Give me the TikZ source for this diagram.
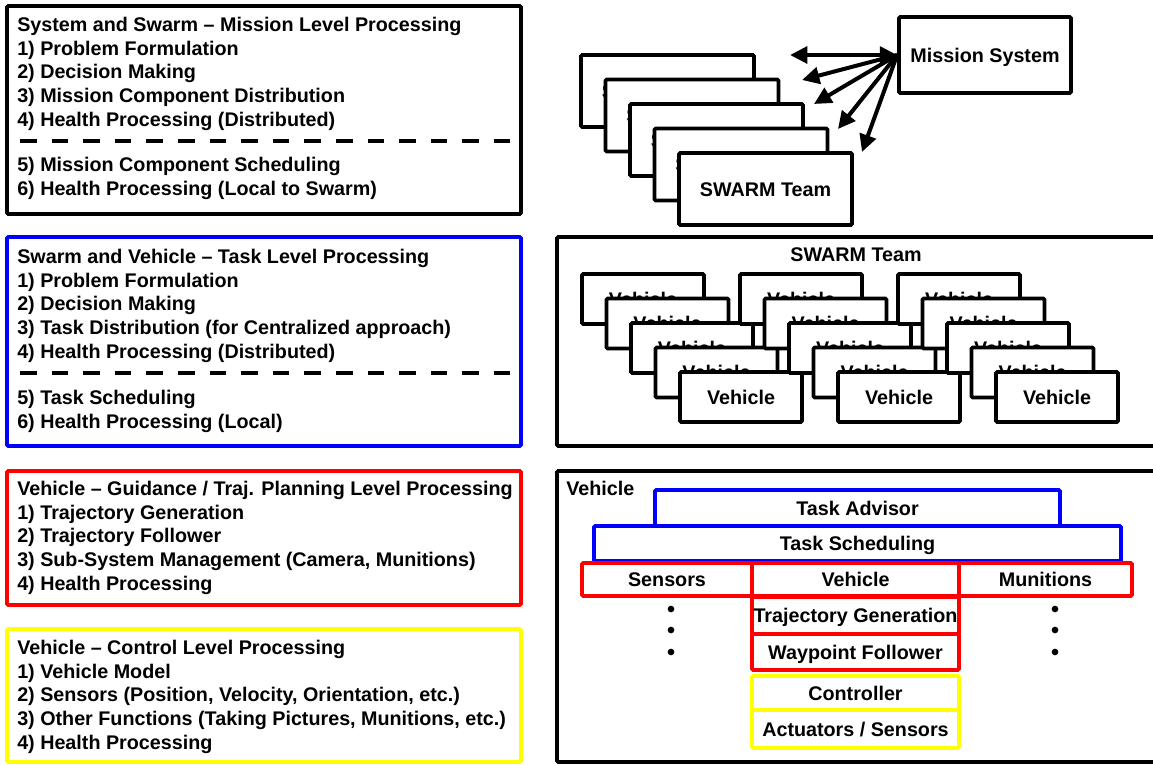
\documentclass[tikz,border=0pt]{standalone}
\usepackage{fontspec}
\setmainfont{Liberation Sans}
\usetikzlibrary{arrows.meta,fit}
\definecolor{pblue}{RGB}{0,0,255}
\definecolor{pred}{RGB}{255,0,0}
\definecolor{pyellow}{RGB}{255,255,0}
% box from pixel corners (x1,y1)-(x2,y2): [options]{name}{x1}{y1}{x2}{y2}{text}
\newcommand\mkbox[7][]{%
  \pgfmathsetmacro\bxw{((#5)-(#3))*0.75}%
  \pgfmathsetmacro\bxh{((#6)-(#4))*0.75}%
  \pgfmathsetmacro\bxx{((#3)+(#5))/2}%
  \pgfmathsetmacro\bxy{((#4)+(#6))/2}%
  \node[bx,#1,minimum width=\bxw pt,minimum height=\bxh pt] (#2) at (\bxx,\bxy) {#7};%
}
\begin{document}
\begin{tikzpicture}[x=0.75pt,y=-0.75pt,
  lbl/.style={font=\bfseries\fontsize{14.8}{17}\selectfont, inner sep=0pt},
  ln/.style={lbl, anchor=base west},
  frame/.style={draw, line width=2.8pt, rounded corners=1pt},
  bx/.style={draw, line width=2.8pt, fill=white, inner sep=0pt, rounded corners=1pt, lbl, text height=10.6pt, text depth=0pt},
  sep/.style={line width=3pt, dash pattern=on 12.4pt off 11.3pt},
  tip/.tip={Triangle[length=13pt,width=12.5pt]},
  arr/.style={line width=3pt, -tip},
  arrb/.style={line width=3pt, tip-tip},
  dot/.style={circle, fill, inner sep=0pt, minimum size=5pt}
]
\fill[white] (0,0) rectangle (1153,764);
\useasboundingbox (0,0) rectangle (1153,764);

% ---------- left panels ----------
\node[frame, inner sep=0pt, fit={(7,6) (521,214)}] (p1) {};
\node[ln] (p1t) at (17,31.5) {System and Swarm – Mission Level Processing};
\node[ln] (p1a) at (17,55.5) {1) Problem Formulation};
\node[ln] (p1b) at (17,78.5) {2) Decision Making};
\node[ln] (p1c) at (17,102.5) {3) Mission Component Distribution};
\node[ln] (p1d) at (17,126.5) {4) Health Processing (Distributed)};
\draw[sep] (20,141) -- (510,141);
\node[ln] (p1e) at (17,171.5) {5) Mission Component Scheduling};
\node[ln] (p1f) at (17,195.5) {6) Health Processing (Local to Swarm)};

\node[frame, draw=pblue, inner sep=0pt, fit={(7,237) (521,446)}] (p2) {};
\node[ln] (p2t) at (17,263.5) {Swarm and Vehicle – Task Level Processing};
\node[ln] (p2a) at (17,287.5) {1) Problem Formulation};
\node[ln] (p2b) at (17,310.5) {2) Decision Making};
\node[ln] (p2c) at (17,334.5) {3) Task Distribution (for Centralized approach)};
\node[ln] (p2d) at (17,358.5) {4) Health Processing (Distributed)};
\draw[sep] (20,373) -- (510,373);
\node[ln] (p2e) at (17,404.5) {5) Task Scheduling};
\node[ln] (p2f) at (17,428) {6) Health Processing (Local)};

\node[frame, draw=pred, inner sep=0pt, fit={(7,471) (521,605)}] (p3) {};
\node[ln] (p3t) at (17,495.5) {Vehicle – Guidance / Traj. Planning Level Processing};
\node[ln] (p3a) at (17,519.5) {1) Trajectory Generation};
\node[ln] (p3b) at (17,542.5) {2) Trajectory Follower};
\node[ln] (p3c) at (17,566.5) {3) Sub-System Management (Camera, Munitions)};
\node[ln] (p3d) at (17,590) {4) Health Processing};

\node[frame, draw=pyellow, inner sep=0pt, fit={(7,629) (521,762)}] (p4) {};
\node[ln] (p4t) at (17,654.5) {Vehicle – Control Level Processing};
\node[ln] (p4a) at (17,678) {1) Vehicle Model};
\node[ln] (p4b) at (17,701.5) {2) Sensors (Position, Velocity, Orientation, etc.)};
\node[ln] (p4c) at (17,725.5) {3) Other Functions (Taking Pictures, Munitions, etc.)};
\node[ln] (p4d) at (17,749) {4) Health Processing};

% ---------- mission level (top right) ----------
\mkbox{ms}{899}{17}{1071}{93}{Mission System}
\foreach \k in {0,...,4}{
  \mkbox{sw\k}{581+24.5*\k}{55+24.5*\k}{754+24.5*\k}{127+24.5*\k}{SWARM Team}
}
\coordinate (a1) at (790,55);
\coordinate (a2) at (802,80);
\coordinate (a3) at (814,104);
\coordinate (a4) at (838,129);
\coordinate (a5) at (862,152);
\draw[arrb] (ms.west) -- (a1);
\draw[arr] (ms.west) -- (a2);
\draw[arr] (ms.west) -- (a3);
\draw[arr] (ms.west) -- (a4);
\draw[arr] (ms.west) -- (a5);

% ---------- swarm team (middle right) ----------
\draw[frame] (1153,237) -- (557,237) -- (557,446) -- (1153,446);
\node[lbl] (swt) at (856,255) {SWARM Team};
\foreach \s in {0,1,2}{
  \foreach \k in {0,...,4}{
    \mkbox{v\s\k}{582+158*\s+24.5*\k}{274+24.5*\k}{704+158*\s+24.5*\k}{324+24.5*\k}{Vehicle}
  }
}

% ---------- vehicle (bottom right) ----------
\draw[frame] (1153,471) -- (557,471) -- (557,762) -- (1153,762);
\node[ln] (vl) at (566,495) {Vehicle};
\mkbox[draw=pblue]{ta}{655}{490}{1060}{526}{Task Advisor}
\mkbox[draw=pblue]{ts}{594}{526}{1121}{561}{Task Scheduling}
\mkbox[draw=pred]{sen}{582}{563}{752}{596}{Sensors}
\mkbox[draw=pred]{mun}{959}{563}{1132}{596}{Munitions}
\mkbox[draw=pred]{veh}{752}{563}{959}{596}{Vehicle}
\mkbox[draw=pred]{tg}{752}{597}{959}{634}{Trajectory Generation}
\mkbox[draw=pred]{wf}{752}{634}{959}{670}{Waypoint Follower}
\mkbox[draw=pyellow]{ctl}{752}{676}{959}{710}{Controller}
\mkbox[draw=pyellow]{act}{752}{710}{959}{748}{Actuators / Sensors}
\node[dot] (sd1) at (671,609) {};
\node[dot] (sd2) at (671,630) {};
\node[dot] (sd3) at (671,652) {};
\node[dot] (md1) at (1055,609) {};
\node[dot] (md2) at (1055,630) {};
\node[dot] (md3) at (1055,652) {};
\end{tikzpicture}
\end{document}
